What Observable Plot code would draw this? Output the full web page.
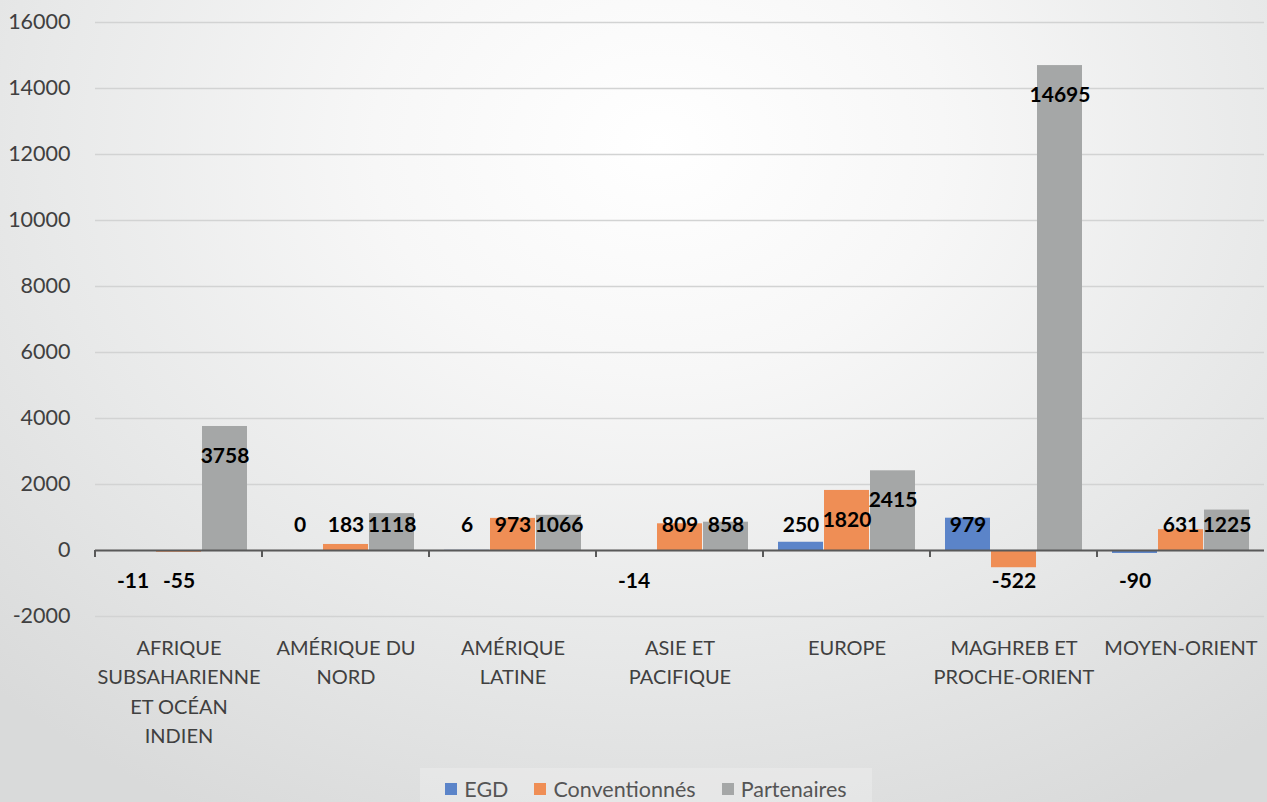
<!DOCTYPE html>
<html>
<head>
<meta charset="utf-8">
<script src="https://cdn.jsdelivr.net/npm/d3@7"></script>
<script src="https://cdn.jsdelivr.net/npm/@observablehq/plot@0.6"></script>
<style>
  html, body { margin: 0; padding: 0; }
  body {
    width: 1267px; height: 802px; overflow: hidden;
    background: radial-gradient(ellipse 75% 95% at 52% 18%, #ffffff 0%, #f7f7f7 30%, #e8e9e9 65%, #d9dada 100%);
    font-family: Lato, sans-serif;
  }
  #legend {
    position: absolute; top: 768px; left: 420px; width: 452px; height: 42px;
    background: rgba(255,255,255,0.22);
    display: flex; align-items: center; justify-content: center;
    font-size: 21.5px; color: #555;
  }
  .item { display: flex; align-items: center; margin: 0 13px; }
  .sw { width: 12px; height: 12px; margin-right: 7px; }
</style>
</head>
<body>
<div id="chart"></div>
<div id="legend"></div>
<script>
const categories = ["AFRIQUE SUBSAHARIENNE ET OCÉAN INDIEN", "AMÉRIQUE DU NORD", "AMÉRIQUE LATINE", "ASIE ET PACIFIQUE", "EUROPE", "MAGHREB ET PROCHE-ORIENT", "MOYEN-ORIENT"];
const categoryLabels = ["AFRIQUE\nSUBSAHARIENNE\nET OCÉAN\nINDIEN", "AMÉRIQUE DU\nNORD", "AMÉRIQUE\nLATINE", "ASIE ET\nPACIFIQUE", "EUROPE", "MAGHREB ET\nPROCHE-ORIENT", "MOYEN-ORIENT"];
const series = ["EGD", "Conventionnés", "Partenaires"];
const egd = [-11, 0, 6, -14, 250, 979, -90];
const conventionnes = [-55, 183, 973, 809, 1820, -522, 631];
const partenaires = [3758, 1118, 1066, 858, 2415, 14695, 1225];
const yTicks = [-2000, 0, 2000, 4000, 6000, 8000, 10000, 12000, 14000, 16000];
const colors = ["#5B84C9", "#EF8E55", "#A5A7A7"];

const valuesBySeries = [egd, conventionnes, partenaires];
const rows = [];
categories.forEach((c, i) => {
  series.forEach((s, j) => rows.push({category: c, series: s, value: valuesBySeries[j][i]}));
});
const labelOf = new Map(categories.map((c, i) => [c, categoryLabels[i]]));

const plot = Plot.plot({
  width: 1267,
  height: 765,
  marginLeft: 92,
  marginRight: 0,
  marginTop: 22,
  marginBottom: 149,
  style: {background: "transparent", fontFamily: "Lato, sans-serif", overflow: "visible"},
  fx: {domain: categories, padding: 0, label: null},
  x: {domain: series, axis: null, paddingInner: 0.03, paddingOuter: 0.33},
  y: {domain: [-2000, 16000], label: null},
  color: {domain: series, range: colors},
  marks: [
    Plot.gridY(yTicks, {stroke: "#d2d3d3", strokeOpacity: 1, strokeWidth: 1.3}),
    Plot.axisY(yTicks, {tickSize: 0, tickPadding: 25, fontSize: 21.5, fill: "#404040", label: null,
                        tickFormat: d => String(d)}),
    Plot.axisFx({anchor: "bottom", tickSize: 0, tickPadding: 17, fontSize: 20, lineHeight: 1.48, fill: "#404040", label: null,
                 tickFormat: d => labelOf.get(d)}),
    Plot.barY(rows, {fx: "category", x: "series", y: "value", fill: "series"}),
    Plot.ruleY([0], {stroke: "#595959", strokeWidth: 2}),
    Plot.text(rows, {
      fx: "category", x: "series",
      y: d => d.value >= 0 ? Math.max(d.value - 900, 760) : -940,
      text: d => String(d.value),
      fontSize: 21, fontWeight: "bold", fill: "#000"
    })
  ]
});
document.getElementById("chart").appendChild(plot);

// boundary ticks on the zero line, placed through Plot's own scales
const fx = plot.scale("fx");
const y = plot.scale("y");
const y0 = y.apply(0);
const svg = d3.select(plot);
const g = svg.append("g").attr("stroke", "#595959").attr("stroke-width", 2);
categories.forEach(c => {
  const x0 = fx.apply(c);
  g.append("line").attr("x1", x0).attr("x2", x0).attr("y1", y0).attr("y2", y0 + 7);
});

const legend = d3.select("#legend");
series.forEach((s, i) => {
  const it = legend.append("div").attr("class", "item");
  it.append("div").attr("class", "sw").style("background", colors[i]);
  it.append("span").text(s);
});
</script>
</body>
</html>
